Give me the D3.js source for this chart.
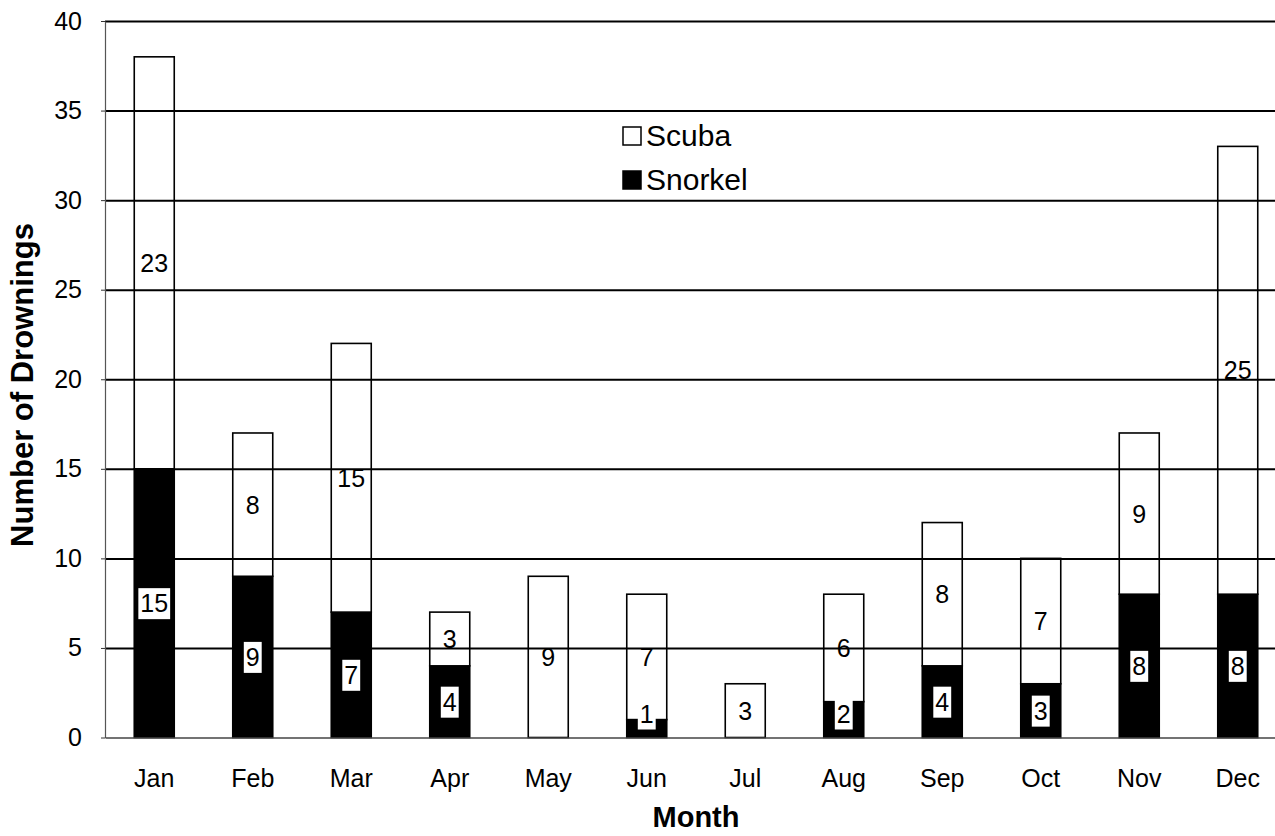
<!DOCTYPE html>
<html>
<head>
<meta charset="utf-8">
<script src="https://cdn.jsdelivr.net/npm/d3@7"></script>
<style>
  body { margin: 0; background: #fff; }
  svg { display: block; font-family: "Liberation Sans", Arial, sans-serif; }
</style>
</head>
<body>
<div id="chart"></div>
<script>
// datas
const months = ["Jan", "Feb", "Mar", "Apr", "May", "Jun", "Jul", "Aug", "Sep", "Oct", "Nov", "Dec"];
const snorkel = [15, 9, 7, 4, 0, 1, 0, 2, 4, 3, 8, 8];
const scuba = [23, 8, 15, 3, 9, 7, 3, 6, 8, 7, 9, 25];
const yTicks = [0, 5, 10, 15, 20, 25, 30, 35, 40];

const width = 1275,
  height = 836;
// plot area (right edge runs past the window, like the original scan)
const plotLeft = 105,
  plotRight = 1287,
  plotTop = 21,
  plotBottom = 737.5;

const svg = d3
  .select("#chart")
  .append("svg")
  .attr("width", width)
  .attr("height", height);

const x = d3.scaleBand().domain(months).range([plotLeft, plotRight]).paddingInner(0.594).paddingOuter(0.297);
const y = d3.scaleLinear().domain([0, 40]).range([plotBottom, plotTop]);

// stack snorkel under scuba
const rows = months.map((m, i) => ({ month: m, Snorkel: snorkel[i], Scuba: scuba[i] }));
const series = d3.stack().keys(["Snorkel", "Scuba"])(rows);
const fills = { Snorkel: "#000", Scuba: "#fff" };

// bars
svg
  .append("g")
  .selectAll("g")
  .data(series)
  .join("g")
  .attr("fill", d => fills[d.key])
  .selectAll("rect")
  .data(d => d.filter(p => p[1] > p[0]))
  .join("rect")
  .attr("x", d => x(d.data.month))
  .attr("width", x.bandwidth())
  .attr("y", d => y(d[1]))
  .attr("height", d => y(d[0]) - y(d[1]))
  .attr("stroke", "#000")
  .attr("stroke-width", 1.6);

// gridlines on top of the bars
const grid = svg
  .append("g")
  .attr("transform", `translate(${plotLeft},0)`)
  .call(d3.axisLeft(y).tickValues(yTicks.slice(1)).tickSize(-(plotRight - plotLeft)).tickFormat(""));
grid.select(".domain").remove();
grid.selectAll("line").attr("stroke", "#000").attr("stroke-width", 2);

// y axis with labels
const yAxis = svg
  .append("g")
  .attr("transform", `translate(${plotLeft},0)`)
  .call(d3.axisLeft(y).tickValues(yTicks).tickSize(4).tickSizeOuter(0).tickPadding(19));
yAxis.select(".domain").attr("stroke", "#555").attr("stroke-width", 1.2);
yAxis.selectAll("line").attr("stroke", "#333");
yAxis.selectAll("text").attr("font-size", 25).attr("font-family", "Liberation Sans, Arial, sans-serif").attr("fill", "#000");

// x axis
const xAxis = svg
  .append("g")
  .attr("transform", `translate(0,${plotBottom})`)
  .call(d3.axisBottom(x).tickSize(0).tickPadding(32));
xAxis.select(".domain").attr("stroke", "#444").attr("stroke-width", 1.5);
xAxis.selectAll("text").attr("font-size", 25).attr("font-family", "Liberation Sans, Arial, sans-serif").attr("fill", "#000");

// value labels
const labels = [];
series.forEach(s => {
  s.forEach(p => {
    const v = p[1] - p[0];
    if (v <= 0) return;
    let cy = y((p[0] + p[1]) / 2);
    cy = Math.min(cy, y(0) - 24);
    labels.push({ key: s.key, v: v, cx: x(p.data.month) + x.bandwidth() / 2, cy: cy });
  });
});

const lab = svg
  .append("g")
  .selectAll("g")
  .data(labels)
  .join("g")
  .attr("transform", d => `translate(${d.cx},${d.cy})`);

lab
  .filter(d => d.key === "Snorkel")
  .append("rect")
  .attr("x", d => -(String(d.v).length * 13.9) / 2 - 2)
  .attr("y", -15)
  .attr("width", d => String(d.v).length * 13.9 + 4)
  .attr("height", 31)
  .attr("fill", "#fff");

lab
  .append("text")
  .text(d => d.v)
  .attr("text-anchor", "middle")
  .attr("dy", "0.36em")
  .attr("font-size", 25)
  .attr("fill", "#000");

// legend
const legend = svg
  .append("g")
  .selectAll("g")
  .data(["Scuba", "Snorkel"])
  .join("g")
  .attr("transform", (d, i) => `translate(623,${146 + i * 44})`);
legend
  .append("rect")
  .attr("x", 0)
  .attr("y", -19)
  .attr("width", 18)
  .attr("height", 18)
  .attr("fill", d => fills[d])
  .attr("stroke", "#000")
  .attr("stroke-width", 1.5);
legend
  .append("text")
  .attr("x", 23)
  .attr("y", 0)
  .attr("font-size", 30)
  .text(d => d);

// axis titles
svg
  .append("text")
  .attr("transform", `translate(33,385) rotate(-90)`)
  .attr("text-anchor", "middle")
  .attr("font-size", 31)
  .attr("font-weight", "bold")
  .text("Number of Drownings");

svg
  .append("text")
  .attr("x", (plotLeft + plotRight) / 2)
  .attr("y", 827)
  .attr("text-anchor", "middle")
  .attr("font-size", 29)
  .attr("font-weight", "bold")
  .text("Month");
</script>
</body>
</html>
